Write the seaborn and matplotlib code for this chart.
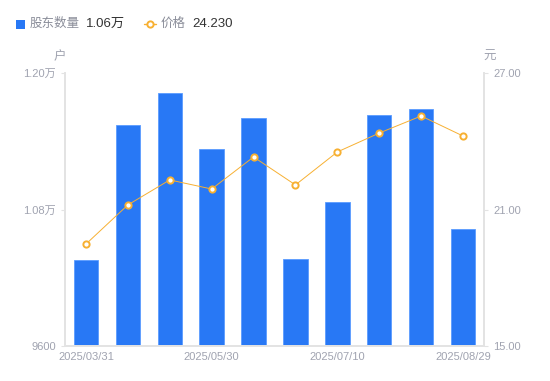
import numpy as np
import pandas as pd
import matplotlib
matplotlib.use("Agg")
import matplotlib.pyplot as plt
import seaborn as sns
from matplotlib.patches import Rectangle
from matplotlib.lines import Line2D

dates = ["2025/03/31", "2025/04/10", "2025/04/30", "2025/05/30", "2025/06/10",
         "2025/06/20", "2025/07/10", "2025/07/31", "2025/08/10", "2025/08/29"]
holders = [10356, 11543, 11824, 11332, 11604, 10365, 10866, 11631, 11684, 10629]
prices = [19.48, 21.20, 22.30, 21.90, 23.31, 22.08, 23.53, 24.36, 25.11, 24.23]
shown_ticks = [0, 3, 6, 9]

BLUE = "#2878F5"
ORANGE = "#F7B032"
GREY = "#A0A3B0"

sns.set_theme(style="white")
plt.rcParams["font.family"] = ["Liberation Sans", "Noto Sans CJK SC", "DejaVu Sans"]

df = pd.DataFrame({"date": dates, "holders": holders, "price": prices, "idx": range(len(dates))})

fig = plt.figure(figsize=(5.5, 3.81), dpi=100)
ax = fig.add_axes([65 / 550, 35 / 381, 419 / 550, 273 / 381])

sns.barplot(data=df, x="date", y="holders", color=BLUE, saturation=1, width=0.58,
            edgecolor="#5A9BFF", linewidth=0.6, ax=ax)
ax.set_ylim(9600, 12000)
ax.set_xlim(-0.5, 9.5)
ax.set_yticks([9600, 10800, 12000])
ax.set_yticklabels(["9600", "1.08万", "1.20万"])
ax.set_xticks(shown_ticks)
ax.set_xticklabels([dates[i] for i in shown_ticks])
ax.set_xlabel("")
ax.set_ylabel("")

ax2 = ax.twinx()
sns.lineplot(data=df, x="idx", y="price", color=ORANGE, linewidth=0.7, marker="o",
             markersize=4.5, markerfacecolor="white", markeredgecolor=ORANGE,
             markeredgewidth=1.4, ax=ax2, zorder=5)
ax2.set_ylim(15, 27)
ax2.set_yticks([15, 21, 27])
ax2.set_yticklabels(["15.00", "21.00", "27.00"])
ax2.set_ylabel("")
ax2.set_xlim(-0.5, 9.5)

for a in (ax, ax2):
    a.spines["top"].set_visible(False)
    a.spines["left"].set_color("#E3E3E3")
    a.spines["right"].set_color("#E3E3E3")
    a.spines["bottom"].set_color("#E3E3E3")
    a.tick_params(colors=GREY, labelsize=8, length=3, width=0.8)
    a.tick_params(axis="y", color="#E3E3E3")
ax.tick_params(axis="x", length=0, pad=4)
ax.grid(False)
ax2.grid(False)

fig.text(60 / 550, 1 - 57 / 381, "户", color=GREY, fontsize=9, ha="center", va="center")
fig.text(490 / 550, 1 - 57 / 381, "元", color=GREY, fontsize=9, ha="center", va="center")

# legend row
ly = 1 - 24 / 381
fig.patches.append(Rectangle((16 / 550, ly - 4.5 / 381), 9 / 550, 9 / 381, transform=fig.transFigure,
                             facecolor=BLUE, edgecolor="none"))
fig.text(30 / 550, ly, "股东数量", color="#8A8D99", fontsize=9, va="center")
fig.text(86 / 550, ly, "1.06万", color="#333333", fontsize=9.5, va="center")
fig.lines.append(Line2D([144 / 550, 156 / 550], [ly, ly], transform=fig.transFigure,
                        color=ORANGE, linewidth=1))
fig.lines.append(Line2D([150 / 550], [ly], transform=fig.transFigure, color=ORANGE,
                        marker="o", markersize=4.5, markerfacecolor="white",
                        markeredgewidth=1.4, linestyle="none"))
fig.text(161 / 550, ly, "价格", color="#8A8D99", fontsize=9, va="center")
fig.text(192 / 550, ly, "24.230", color="#333333", fontsize=9.5, va="center")

fig.savefig("out.png", dpi=100)
